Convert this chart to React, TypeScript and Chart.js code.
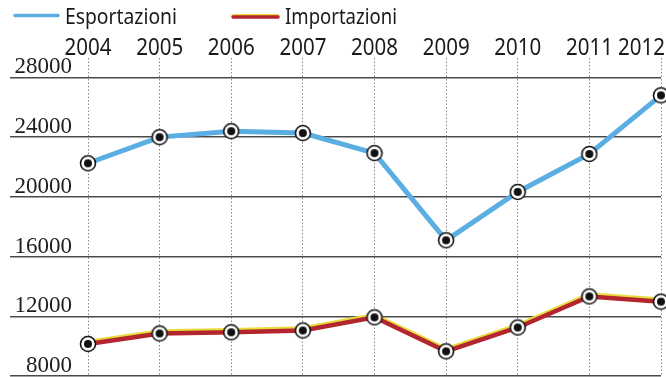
import React, { useEffect, useRef } from "react";
import { Chart, registerables } from "chart.js";

Chart.register(...registerables);

const years = ["2004", "2005", "2006", "2007", "2008", "2009", "2010", "2011", "2012"];
const esportazioni = [22250, 24000, 24400, 24270, 22930, 17090, 20330, 22870, 26800];
const importazioni = [10150, 10850, 10930, 11050, 11930, 9650, 11250, 13330, 12980];
const yTicks = [8000, 12000, 16000, 20000, 24000, 28000];
const seriesNames = ["Esportazioni", "Importazioni"];

const SANS = '"Noto Sans", "Open Sans", sans-serif';

function makeMarker(): HTMLCanvasElement {
  const c = document.createElement("canvas");
  c.width = 18;
  c.height = 18;
  const g = c.getContext("2d")!;
  g.beginPath();
  g.arc(9, 9, 7.5, 0, Math.PI * 2);
  g.fillStyle = "#ffffff";
  g.fill();
  g.lineWidth = 1.6;
  g.strokeStyle = "#111111";
  g.stroke();
  g.beginPath();
  g.arc(9, 9, 4, 0, Math.PI * 2);
  g.fillStyle = "#111111";
  g.fill();
  return c;
}

// Yellow edge above the import line only (not on its markers)
const importShadow = {
  id: "importShadow",
  beforeDatasetDraw(chart: any, args: any) {
    if (args.index !== 1) return;
    const line = chart.getDatasetMeta(1).dataset;
    if (!line || line.__yellowEdge) return;
    const orig = line.draw.bind(line);
    line.draw = (ctx: CanvasRenderingContext2D, area: any) => {
      ctx.save();
      ctx.shadowColor = "#e8dc3c";
      ctx.shadowOffsetY = -2;
      ctx.shadowOffsetX = 0;
      ctx.shadowBlur = 0;
      orig(ctx, area);
      ctx.restore();
    };
    line.__yellowEdge = true;
  },
};

const topLabels = {
  id: "topLabels",
  afterDraw(chart: any) {
    const ctx = chart.ctx;
    const xs = chart.scales.x;
    ctx.save();
    // year labels
    ctx.font = `24px ${SANS}`;
    ctx.fillStyle = "#1a1a1a";
    ctx.textBaseline = "alphabetic";
    ctx.textAlign = "left";
    years.forEach((y, i) => {
      const maxW = 47;
      const w = Math.min(ctx.measureText(y).width, maxW);
      let x = xs.getPixelForValue(i) - w / 2;
      if (x + w > chart.width - 1) x = chart.width - 1 - w;
      ctx.fillText(y, x, 55, maxW);
    });
    // legend
    const items = [
      { lx: 15, lx2: 58, ly: 15.5, tx: 65 },
      { lx: 233, lx2: 278, ly: 17, tx: 285 },
    ];
    items.forEach((it, i) => {
      const ds = chart.data.datasets[i];
      ctx.lineCap = "round";
      if (i === 1) {
        ctx.beginPath();
        ctx.moveTo(it.lx, it.ly - 1.5);
        ctx.lineTo(it.lx2, it.ly - 1.5);
        ctx.strokeStyle = "#e8dc3c";
        ctx.lineWidth = 3;
        ctx.stroke();
      }
      ctx.beginPath();
      ctx.moveTo(it.lx, it.ly);
      ctx.lineTo(it.lx2, it.ly);
      ctx.strokeStyle = ds.borderColor;
      ctx.lineWidth = 3.5;
      ctx.stroke();
      ctx.font = `22px ${SANS}`;
      ctx.fillStyle = "#1a1a1a";
      ctx.fillText(seriesNames[i], it.tx, 24, 112);
    });
    ctx.restore();
  },
};

export default function App() {
  const ref = useRef<HTMLCanvasElement | null>(null);

  useEffect(() => {
    if (!ref.current) return;
    const marker = makeMarker();
    const chart = new Chart(ref.current, {
      type: "line",
      data: {
        labels: years,
        datasets: [
          {
            label: seriesNames[0],
            data: esportazioni,
            borderColor: "#5aaee2",
            backgroundColor: "#5aaee2",
            borderWidth: 5,
            pointStyle: marker as any,
            pointRadius: 9,
            tension: 0,
            clip: false as any,
          },
          {
            label: seriesNames[1],
            data: importazioni,
            borderColor: "#b3262f",
            backgroundColor: "#b3262f",
            borderWidth: 4.5,
            pointStyle: marker as any,
            pointRadius: 9,
            tension: 0,
            clip: false as any,
          },
        ],
      },
      options: {
        animation: false,
        responsive: true,
        maintainAspectRatio: false,
        layout: { autoPadding: false, padding: { left: 0, right: 5, top: 58, bottom: 1 } },
        plugins: {
          legend: { display: false },
          tooltip: { enabled: false },
        },
        scales: {
          x: {
            position: "top",
            offset: false,
            ticks: { display: false },
            grid: {
              display: true,
              color: "#8a8a8a",
              lineWidth: 1,
              drawTicks: false,
            },
            border: { display: false, dash: [1.5, 2] },
          },
          y: {
            min: 8000,
            max: 29300,
            afterBuildTicks: (scale: any) => {
              scale.ticks = yTicks.map((v) => ({ value: v }));
            },
            afterFit: (scale: any) => {
              scale.width = 88;
            },
            ticks: {
              padding: -62,
              labelOffset: -10,
              color: "#1e1e1e",
              font: { family: '"Liberation Serif", serif', size: 23 },
              callback: (v: any) => String(v),
            },
            grid: {
              color: "#4a4a4a",
              lineWidth: 1.5,
              tickLength: 78,
              drawTicks: true,
            },
            border: { display: false },
          },
        },
      },
      plugins: [importShadow, topLabels],
    });
    if ((document as any).fonts && (document as any).fonts.load) {
      Promise.all([
        (document as any).fonts.load(`24px "Noto Sans"`),
        (document as any).fonts.load(`23px "Liberation Serif"`),
      ]).then(() => chart.update()).catch(() => {});
    }
    return () => chart.destroy();
  }, []);

  return (
    <div style={{ position: "fixed", left: 0, top: 0, width: 666, height: 377, background: "#ffffff" }}>
      <canvas ref={ref} />
    </div>
  );
}
